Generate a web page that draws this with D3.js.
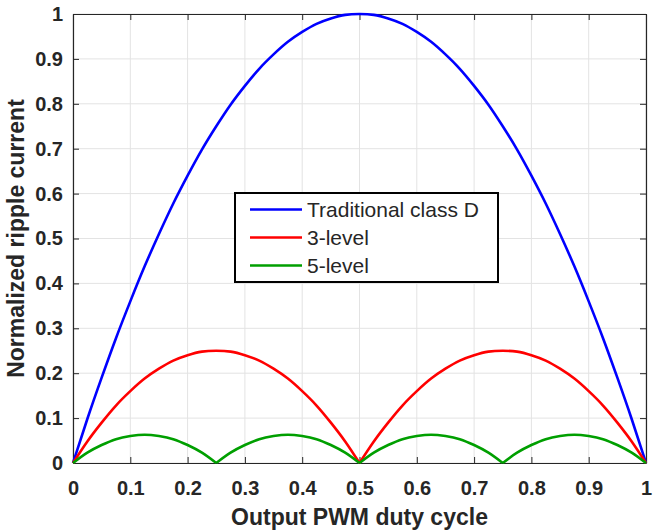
<!DOCTYPE html>
<html>
<head>
<meta charset="utf-8">
<script src="https://cdn.jsdelivr.net/npm/d3@7"></script>
<style>
  body { margin: 0; background: #fff; }
  svg { font-family: Arial, "Liberation Sans", Helvetica, sans-serif; }
  .tick text { font-weight: bold; font-size: 20px; fill: #262626; }
</style>
</head>
<body>
<div id="chart"></div>
<script>
// duty cycle samples
var duty = [0, 0.025, 0.05, 0.075, 0.1, 0.125, 0.15, 0.175, 0.2, 0.225,
            0.25, 0.275, 0.3, 0.325, 0.35, 0.375, 0.4, 0.425, 0.45, 0.475,
            0.5, 0.525, 0.55, 0.575, 0.6, 0.625, 0.65, 0.675, 0.7, 0.725,
            0.75, 0.775, 0.8, 0.825, 0.85, 0.875, 0.9, 0.925, 0.95, 0.975, 1];

// values
var traditional = [0, 0.098, 0.19, 0.278, 0.36, 0.438, 0.51, 0.578, 0.64, 0.698,
                   0.75, 0.798, 0.84, 0.878, 0.91, 0.938, 0.96, 0.978, 0.99, 0.998,
                   1, 0.998, 0.99, 0.978, 0.96, 0.938, 0.91, 0.878, 0.84, 0.798,
                   0.75, 0.698, 0.64, 0.578, 0.51, 0.438, 0.36, 0.278, 0.19, 0.098, 0];
var level3 = [0, 0.048, 0.09, 0.128, 0.16, 0.188, 0.21, 0.228, 0.24, 0.248,
              0.25, 0.248, 0.24, 0.228, 0.21, 0.188, 0.16, 0.128, 0.09, 0.048,
              0, 0.048, 0.09, 0.128, 0.16, 0.188, 0.21, 0.228, 0.24, 0.248,
              0.25, 0.248, 0.24, 0.228, 0.21, 0.188, 0.16, 0.128, 0.09, 0.048, 0];
var level5 = [0, 0.023, 0.04, 0.053, 0.06, 0.063, 0.06, 0.053, 0.04, 0.023,
              0, 0.023, 0.04, 0.053, 0.06, 0.063, 0.06, 0.053, 0.04, 0.023,
              0, 0.023, 0.04, 0.053, 0.06, 0.063, 0.06, 0.053, 0.04, 0.023,
              0, 0.023, 0.04, 0.053, 0.06, 0.063, 0.06, 0.053, 0.04, 0.023, 0];

var seriesNames = ["Traditional class D", "3-level", "5-level"];
var seriesColors = ["#0000ff", "#ff0000", "#009f00"];
var xTicks = [0, 0.1, 0.2, 0.3, 0.4, 0.5, 0.6, 0.7, 0.8, 0.9, 1];
var yTicks = [0, 0.1, 0.2, 0.3, 0.4, 0.5, 0.6, 0.7, 0.8, 0.9, 1];

var W = 656, H = 532;
var margin = {top: 14, right: 10, bottom: 69, left: 73};
var width = W - margin.left - margin.right;
var height = H - margin.top - margin.bottom;

var svg = d3.select("#chart").append("svg")
    .attr("width", W)
    .attr("height", H);
var g = svg.append("g")
    .attr("transform", "translate(" + margin.left + "," + margin.top + ")");

var xScale = d3.scaleLinear().domain([0, 1]).range([0, width]);
var yScale = d3.scaleLinear().domain([0, 1]).range([height, 0]);
var fmt = function(d) { return d3.format("")(+d.toFixed(1)); };

// grid
g.append("g").selectAll("line").data(xTicks).enter().append("line")
    .attr("x1", function(d) { return xScale(d); })
    .attr("x2", function(d) { return xScale(d); })
    .attr("y1", 0).attr("y2", height)
    .style("stroke", "#e3e3e3").style("stroke-width", 1);
g.append("g").selectAll("line").data(yTicks).enter().append("line")
    .attr("y1", function(d) { return yScale(d); })
    .attr("y2", function(d) { return yScale(d); })
    .attr("x1", 0).attr("x2", width)
    .style("stroke", "#e3e3e3").style("stroke-width", 1);

// axes (ticks inside, mirrored on top / right)
function styleAxis(sel) {
    sel.select(".domain").style("stroke", "#262626").style("stroke-width", 1.2);
    sel.selectAll(".tick line").style("stroke", "#262626").style("stroke-width", 1);
}
g.append("g").attr("transform", "translate(0," + height + ")")
    .call(d3.axisBottom(xScale).tickValues(xTicks).tickFormat(fmt).tickSizeInner(-6).tickSizeOuter(0).tickPadding(18))
    .call(styleAxis);
g.append("g")
    .call(d3.axisLeft(yScale).tickValues(yTicks).tickFormat(fmt).tickSizeInner(-6).tickSizeOuter(0).tickPadding(10))
    .call(styleAxis);
g.append("g")
    .call(d3.axisTop(xScale).tickValues(xTicks).tickFormat("").tickSizeInner(-6).tickSizeOuter(0))
    .call(styleAxis);
g.append("g").attr("transform", "translate(" + width + ",0)")
    .call(d3.axisRight(yScale).tickValues(yTicks).tickFormat("").tickSizeInner(-6).tickSizeOuter(0))
    .call(styleAxis);

// curves: split each series into arches at the zero points
var line = d3.line()
    .x(function(d) { return xScale(d[0]); })
    .y(function(d) { return yScale(d[1]); })
    .curve(d3.curveNatural);

[traditional, level3, level5].forEach(function(vals, k) {
    var arches = [], cur = [];
    vals.forEach(function(v, i) {
        cur.push([duty[i], v]);
        if (v === 0 && cur.length > 1) { arches.push(cur); cur = [[duty[i], v]]; }
    });
    arches.forEach(function(a) {
        g.append("path")
            .attr("d", line(a))
            .style("fill", "none")
            .style("stroke", seriesColors[k])
            .style("stroke-width", 2.6);
    });
});

// legend
var lg = svg.append("g").attr("transform", "translate(235,193)");
lg.append("rect")
    .attr("width", 263).attr("height", 89)
    .style("fill", "#fff").style("stroke", "#000").style("stroke-width", 2);
seriesNames.forEach(function(name, i) {
    var yy = 16.5 + i * 28;
    lg.append("line")
        .attr("x1", 15).attr("x2", 67)
        .attr("y1", yy).attr("y2", yy)
        .style("stroke", seriesColors[i]).style("stroke-width", 2.6);
    lg.append("text")
        .attr("x", 72).attr("y", yy + 7.5)
        .style("font-size", "21px").style("fill", "#262626")
        .text(name);
});

// axis labels
svg.append("text")
    .attr("x", margin.left + width / 2).attr("y", 525)
    .attr("text-anchor", "middle")
    .style("font-size", "23px").style("font-weight", "bold").style("fill", "#262626")
    .text("Output PWM duty cycle");
svg.append("text")
    .attr("transform", "translate(24," + (margin.top + height / 2) + ") rotate(-90)")
    .attr("text-anchor", "middle")
    .style("font-size", "23px").style("font-weight", "bold").style("fill", "#262626")
    .text("Normalized ripple current");
</script>
</body>
</html>
